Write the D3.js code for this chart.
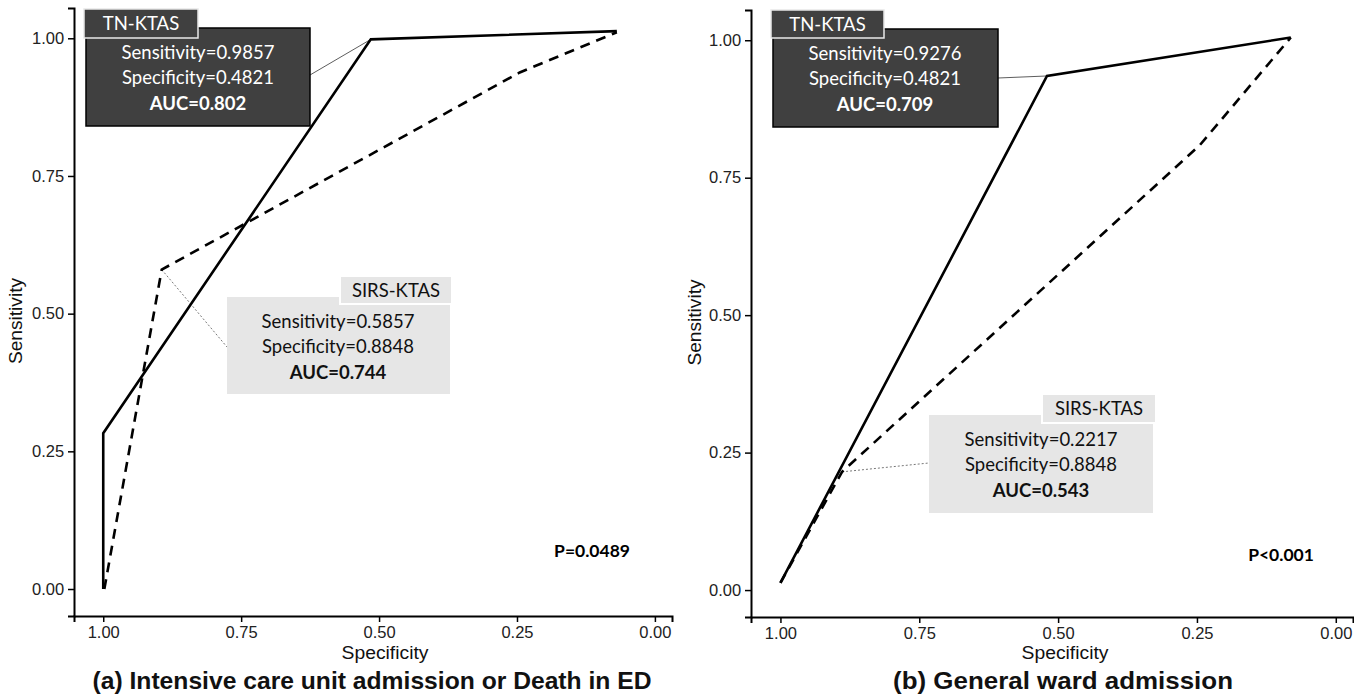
<!DOCTYPE html>
<html>
<head>
<meta charset="utf-8">
<script src="https://cdn.jsdelivr.net/npm/d3@7"></script>
<style>
  body { margin: 0; background: #fff; }
</style>
</head>
<body>
<svg id="chart" width="1354" height="697"></svg>
<script>
var xTicks = [1.00, 0.75, 0.50, 0.25, 0.00];
var yTicks = [0.00, 0.25, 0.50, 0.75, 1.00];

// (a) ICU admission or death in ED
var icuTnSpec = [1.0, 1.0, 0.515, 0.069];
var icuTnSens = [0.0, 0.283, 0.998, 1.013];
var icuSirsSpec = [0.998, 0.894, 0.245, 0.069];
var icuSirsSens = [0.0, 0.580, 0.938, 1.011];

// (b) general ward admission
var wardTnSpec = [1.0, 0.520, 0.081];
var wardTnSens = [0.013, 0.935, 1.005];
var wardSirsSpec = [1.0, 0.889, 0.245, 0.081];
var wardSirsSens = [0.013, 0.215, 0.809, 1.005];

var icuTnLabel = ["Sensitivity=0.9857", "Specificity=0.4821", "AUC=0.802"];
var icuSirsLabel = ["Sensitivity=0.5857", "Specificity=0.8848", "AUC=0.744"];
var wardTnLabel = ["Sensitivity=0.9276", "Specificity=0.4821", "AUC=0.709"];
var wardSirsLabel = ["Sensitivity=0.2217", "Specificity=0.8848", "AUC=0.543"];

var svg = d3.select("#chart");

function zip(xs, ys) {
    return xs.map(function (d, i) { return { spec: d, sens: ys[i] }; });
}

// tab-style label box, pixel layout per panel
function labelBox(g, box, name, lines, dark) {
    var fill = dark ? "#404040" : "#e6e6e6";
    var txt = dark ? "#ffffff" : "#111111";

    g.append("rect")
        .attr("x", box.x).attr("y", box.y)
        .attr("width", box.w).attr("height", box.h)
        .attr("fill", fill)
        .attr("stroke", dark ? "#000" : "none")
        .attr("stroke-width", 1.5);

    g.append("rect")
        .attr("x", box.tx).attr("y", box.ty)
        .attr("width", box.tw).attr("height", box.th)
        .attr("fill", fill)
        .attr("stroke", dark ? "#e8e8e8" : "#ffffff")
        .attr("stroke-width", dark ? 1.5 : 2);

    g.append("text")
        .attr("x", box.tx + box.tw / 2)
        .attr("y", box.ty + box.th / 2 + 6.5)
        .attr("text-anchor", "middle")
        .attr("fill", txt)
        .style("font-family", "Lato, 'Open Sans', sans-serif")
        .style("font-size", "18.5px")
        .text(name);

    lines.forEach(function (l, i) {
        g.append("text")
            .attr("x", box.cx)
            .attr("y", box.ly + i * 25.5)
            .attr("text-anchor", "middle")
            .attr("fill", txt)
            .attr("font-weight", i == 2 ? "bold" : "normal")
            .style("font-family", "Lato, 'Open Sans', sans-serif")
            .style("font-size", "18.5px")
            .text(l);
    });
}

function drawPanel(p) {
    var x = d3.scaleLinear().domain([1.053, -0.031]).range([p.left, p.right]);
    var y = d3.scaleLinear().domain([-0.049, 1.055]).range([p.bottom, p.top]);

    var g = svg.append("g");

    var xAxis = g.append("g")
        .attr("transform", "translate(0," + p.bottom + ")")
        .call(d3.axisBottom(x).tickValues(xTicks).tickFormat(d3.format(".2f")).tickSizeOuter(0).tickSize(6));
    var yAxis = g.append("g")
        .attr("transform", "translate(" + p.left + ",0)")
        .call(d3.axisLeft(y).tickValues(yTicks).tickFormat(d3.format(".2f")).tickSizeOuter(0).tickSize(6));

    [xAxis, yAxis].forEach(function (a) {
        a.select(".domain").attr("stroke", "#000").attr("stroke-width", 2);
        a.selectAll(".tick line").attr("stroke", "#000").attr("stroke-width", 1.5);
        a.selectAll(".tick text")
            .attr("fill", "#222")
            .style("font-family", "'Liberation Sans', Arial, sans-serif")
            .style("font-size", "16.5px");
    });
    xAxis.selectAll(".tick text").attr("dy", "0.8em");
    yAxis.selectAll(".tick text").attr("dx", "-0.05em");

    var line = d3.line()
        .x(function (d) { return x(d.spec); })
        .y(function (d) { return y(d.sens); });

    var tn = zip(p.tnSpec, p.tnSens);
    var sirs = zip(p.sirsSpec, p.sirsSens);

    // connectors to the cut-off points
    var tnPt = tn[p.tnIdx], sirsPt = sirs[p.sirsIdx];
    g.append("line")
        .attr("x1", p.tnFrom[0]).attr("y1", p.tnFrom[1])
        .attr("x2", x(tnPt.spec)).attr("y2", y(tnPt.sens))
        .attr("stroke", "#333").attr("stroke-width", 0.8);
    g.append("line")
        .attr("x1", x(sirsPt.spec)).attr("y1", y(sirsPt.sens))
        .attr("x2", p.sirsTo[0]).attr("y2", p.sirsTo[1])
        .attr("stroke", "#555").attr("stroke-width", 0.8)
        .attr("stroke-dasharray", "2,2");

    g.append("path")
        .datum(sirs)
        .attr("fill", "none")
        .attr("stroke", "#000")
        .attr("stroke-width", 2.6)
        .attr("stroke-dasharray", "10,7")
        .attr("d", line);

    g.append("path")
        .datum(tn)
        .attr("fill", "none")
        .attr("stroke", "#000")
        .attr("stroke-width", 2.6)
        .attr("stroke-linejoin", "miter")
        .attr("d", line);

    labelBox(g, p.tnBox, "TN-KTAS", p.tnLabel, true);
    labelBox(g, p.sirsBox, "SIRS-KTAS", p.sirsLabel, false);

    g.append("text")
        .attr("x", p.pPos[0]).attr("y", p.pPos[1])
        .attr("text-anchor", "middle")
        .attr("font-weight", "bold")
        .style("font-family", "Lato, 'Open Sans', sans-serif")
        .style("font-size", "17.5px")
        .text(p.pText);

    g.append("text")
        .attr("transform", "translate(" + p.ylabX + "," + ((p.top + p.bottom) / 2 + 9) + ") rotate(-90)")
        .attr("text-anchor", "middle")
        .attr("fill", "#111")
        .attr("textLength", 86)
        .attr("lengthAdjust", "spacingAndGlyphs")
        .style("font-family", "'Liberation Sans', Arial, sans-serif")
        .style("font-size", "18px")
        .text("Sensitivity");

    g.append("text")
        .attr("x", p.xlabX).attr("y", 659)
        .attr("text-anchor", "middle")
        .attr("fill", "#111")
        .attr("textLength", 87)
        .attr("lengthAdjust", "spacingAndGlyphs")
        .style("font-family", "'Liberation Sans', Arial, sans-serif")
        .style("font-size", "18px")
        .text("Specificity");

    g.append("text")
        .attr("x", p.titleX).attr("y", 689)
        .attr("text-anchor", "middle")
        .attr("font-weight", "bold")
        .attr("fill", "#111")
        .attr("textLength", p.titleW)
        .attr("lengthAdjust", "spacingAndGlyphs")
        .style("font-family", "'Liberation Sans', Arial, sans-serif")
        .style("font-size", "24px")
        .text(p.title);
}

drawPanel({
    left: 74, right: 672, top: 8, bottom: 616,
    tnSpec: icuTnSpec, tnSens: icuTnSens, sirsSpec: icuSirsSpec, sirsSens: icuSirsSens,
    tnIdx: 2, sirsIdx: 1,
    tnLabel: icuTnLabel, sirsLabel: icuSirsLabel,
    tnBox: { x: 86, y: 28, w: 224, h: 98, tx: 84, ty: 9, tw: 114, th: 29, cx: 198, ly: 58.5 },
    sirsBox: { x: 227, y: 297, w: 223, h: 97, tx: 340, ty: 276, tw: 112, th: 28, cx: 338, ly: 327.5 },
    tnFrom: [310, 75], sirsTo: [227, 347],
    pText: "P=0.0489", pPos: [592, 557],
    ylabX: 22, xlabX: 385, titleX: 372, titleW: 559,
    title: "(a) Intensive care unit admission or Death in ED"
});

drawPanel({
    left: 751, right: 1353, top: 10, bottom: 617,
    tnSpec: wardTnSpec, tnSens: wardTnSens, sirsSpec: wardSirsSpec, sirsSens: wardSirsSens,
    tnIdx: 1, sirsIdx: 1,
    tnLabel: wardTnLabel, sirsLabel: wardSirsLabel,
    tnBox: { x: 773, y: 29, w: 225, h: 98, tx: 771, ty: 10, tw: 113, th: 28, cx: 885, ly: 59.5 },
    sirsBox: { x: 929, y: 415, w: 224, h: 98, tx: 1042, ty: 394, tw: 114, th: 29, cx: 1041, ly: 445.5 },
    tnFrom: [998, 78], sirsTo: [929, 463],
    pText: "P<0.001", pPos: [1281, 561],
    ylabX: 701, xlabX: 1065, titleX: 1063, titleW: 340,
    title: "(b) General ward admission"
});
</script>
</body>
</html>
